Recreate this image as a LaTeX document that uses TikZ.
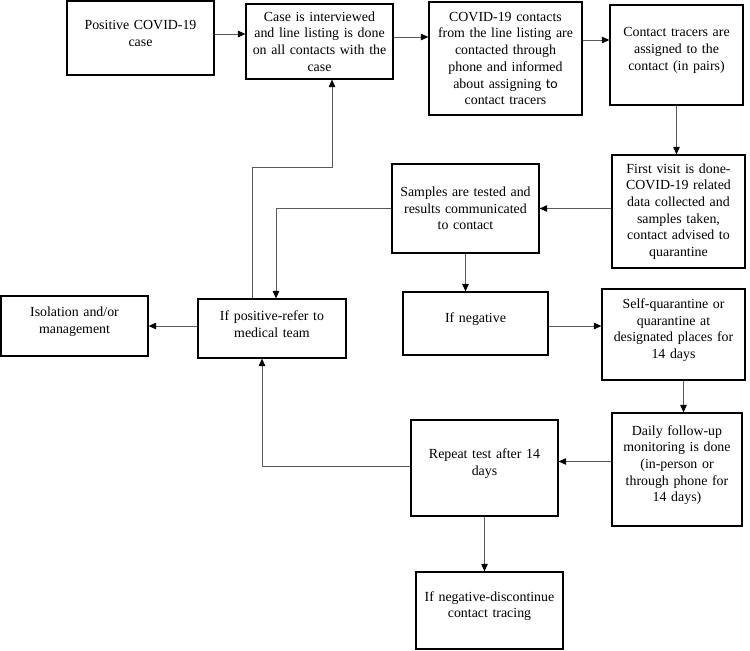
\documentclass[tikz,border=0pt]{standalone}
\usepackage{fontspec}
\setmainfont{Liberation Serif}
\newfontfamily\tofont{Carlito}
\usetikzlibrary{arrows.meta}

\begin{document}
\begin{tikzpicture}[font=\fontsize{7.9}{9.5}\selectfont,
  stepbox/.style 2 args={draw,line width=0.7pt,align=center,
    minimum width=#1cm,minimum height=#2cm,text width=#1cm,
    inner xsep=0pt,inner ysep=0pt},
  toptext/.style={execute at end node={\endgraf\vspace*{1.8mm}}},
  link/.style={draw=black!65,line width=0.5pt,
    -{Triangle[length=1.5mm,width=1.3mm,color=black]}}]
\useasboundingbox (0,0) rectangle (15,-13.02);

\node[stepbox={2.94}{1.48},toptext] (pos) at (2.81,-0.76) {Positive COVID-19\\case};
\node[stepbox={2.94}{1.50}] (intv) at (6.39,-0.83) {Case is interviewed\\and line listing is done\\on all contacts with the\\case};
\node[stepbox={3.06}{2.26}] (cont) at (10.11,-1.17) {COVID-19 contacts\\from the line listing are\\contacted through\\phone and informed\\about assigning {\tofont to}\\contact tracers};
\node[stepbox={2.66}{2.00},toptext] (trac) at (13.53,-1.10) {Contact tracers are\\assigned to the\\contact (in pairs)};
\node[stepbox={2.66}{2.26}] (visit) at (13.57,-4.23) {First visit is done-\\COVID-19 related\\data collected and\\samples taken,\\contact advised to\\quarantine};
\node[stepbox={2.94}{1.78}] (test) at (9.31,-4.17) {Samples are tested and\\results communicated\\to contact};
\node[stepbox={2.96}{1.18},toptext] (posv) at (5.44,-6.57) {If positive-refer to\\medical team};
\node[stepbox={2.94}{1.20},toptext] (isol) at (1.49,-6.52) {Isolation and/or\\management};
\node[stepbox={2.90}{1.26},toptext] (negv) at (9.51,-6.47) {If negative};
\node[stepbox={2.86}{1.82},toptext] (quar) at (13.47,-6.69) {Self-quarantine or\\quarantine at\\designated places for\\14 days};
\node[stepbox={2.60}{2.26},toptext] (daily) at (13.54,-9.39) {Daily follow-up\\monitoring is done\\(in-person or\\through phone for\\14 days)};
\node[stepbox={2.94}{1.92},toptext] (rept) at (9.69,-9.36) {Repeat test after 14\\days};
\node[stepbox={2.94}{1.54},toptext] (stop) at (9.79,-12.21) {If negative-discontinue\\contact tracing};

% connectors
\coordinate (bend) at (6.64,-3.34);
\draw[link] ([yshift=0.8mm]pos.east) -- ([yshift=0.8mm]pos.east -| intv.west);
\draw[link] ([yshift=0.9mm]intv.east) -- ([yshift=0.9mm]intv.east -| cont.west);
\draw[link] ([yshift=3.7mm]cont.east) -- ([yshift=3.7mm]cont.east -| trac.west);
\draw[link] (trac.south) -- (trac.south |- visit.north);
\draw[link] (visit.west |- test) -- (test.east);
\draw[link] (test.south) -- (test.south |- negv.north);
\draw[link] (test.west) -| ([xshift=0.8mm]posv.north);
\draw[link] ([xshift=-4mm]posv.north) |- (bend) -- (bend |- intv.south);
\draw[link] (isol.east -| posv.west) -- (isol.east);
\draw[link] ([yshift=-0.5mm]negv.east) -- ([yshift=-0.5mm]negv.east -| quar.west);
\draw[link] ([xshift=2mm]quar.south) -- ([xshift=2mm]quar.south |- daily.north);
\draw[link] ([yshift=1.6mm]daily.west) -- ([yshift=1.6mm]daily.west -| rept.east);
\draw[link] ([yshift=0.4mm]rept.west) -| ([xshift=-2mm]posv.south);
\draw[link] (rept.south) -- (rept.south |- stop.north);
\end{tikzpicture}
\end{document}
